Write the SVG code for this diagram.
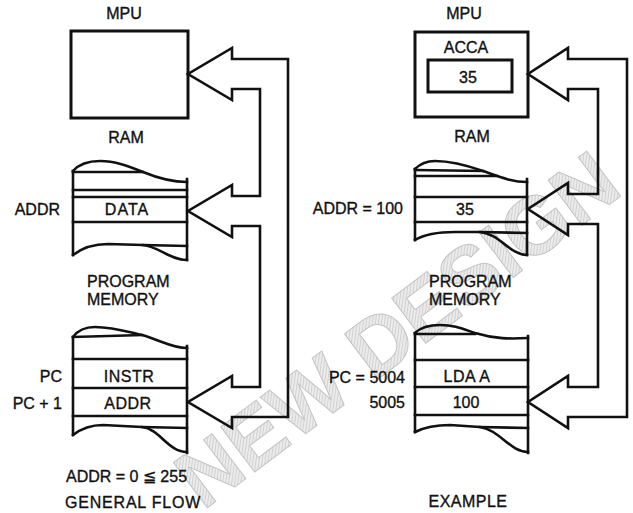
<svg xmlns="http://www.w3.org/2000/svg" width="633" height="513" viewBox="0 0 633 513">
<defs>
<pattern id="hatch" width="3" height="3" patternUnits="userSpaceOnUse" patternTransform="rotate(45)">
<rect width="3" height="3" fill="#ececec"/>
<line x1="0" y1="0" x2="0" y2="3" stroke="#bdbdbd" stroke-width="1.2"/>
</pattern>
</defs>
<style>
.ln{fill:none;stroke:#111;stroke-width:2.6;stroke-linejoin:miter;stroke-linecap:square}
.box{fill:#fff;stroke:#111;stroke-width:3}
.t{font-family:"Liberation Sans",Arial,sans-serif;font-size:16px;fill:#111;stroke:#111;stroke-width:0.35}
.c{text-anchor:middle}
.e{text-anchor:end}
.wm{font-family:"Liberation Sans",Arial,sans-serif;font-weight:bold;font-size:82px;fill:url(#hatch);stroke:#c4c4c4;stroke-width:1}
</style>
<rect width="633" height="513" fill="#fff"/>
<text class="wm" transform="translate(203,511) rotate(-37)">NEW DESIGN</text>

<g id="mpu-left">
<rect class="box" x="71" y="31" width="117" height="87"/>
<text class="t c" x="124" y="19">MPU</text>
</g>

<g id="ram-left">
<text class="t c" x="126" y="143">RAM</text>
<path class="ln" d="M73,171 C80,163 90,161 100,161 C115,161 128,166 143,172 C160,179 172,182 187,182"/>
<path class="ln" d="M73,172 L143,172"/>
<path class="ln" d="M73,171 L73,255 M187,179 L187,260"/>
<path class="ln" d="M73,190 L187,190 M73,197 L187,197 M73,222 L187,222"/>
<path class="ln" d="M73,255 C82,248 95,244 108,244 L143,245 C160,247 170,260 187,260"/>
<path class="ln" d="M143,245 L187,246"/>
<text class="t e" x="60" y="215">ADDR</text>
<text class="t c" x="127" y="215" letter-spacing="1">DATA</text>
</g>

<g id="progmem-left">
<text class="t" x="87" y="287">PROGRAM</text>
<text class="t" x="87" y="305">MEMORY</text>
<path class="ln" d="M73,337 C78,330 86,327 95,327 C112,327 125,331 142,335 C160,340 172,348 187,348"/>
<path class="ln" d="M73,337 L142,335"/>
<path class="ln" d="M73,337 L73,435 M187,346 L187,453"/>
<path class="ln" d="M73,359 L187,359 M73,388 L187,388 M73,416 L187,416"/>
<path class="ln" d="M73,435 C82,428 92,425 103,425 L142,427 C160,429 168,452 187,452"/>
<path class="ln" d="M142,427 L187,428"/>
<text class="t e" x="62" y="382">PC</text>
<text class="t e" x="62" y="409">PC + 1</text>
<text class="t c" x="129" y="382" letter-spacing="0.5">INSTR</text>
<text class="t c" x="128" y="409" letter-spacing="0.5">ADDR</text>
</g>

<g id="caption-left">
<text class="t" x="66" y="482">ADDR = 0 ≦ 255</text>
<text class="t" x="65" y="508" letter-spacing="0.8">GENERAL FLOW</text>
</g>

<g id="mpu-right">
<text class="t c" x="464" y="19">MPU</text>
<rect class="box" x="415" y="32" width="113" height="85"/>
<text class="t c" x="466" y="53">ACCA</text>
<rect class="box" x="428" y="60" width="84" height="32"/>
<text class="t c" x="468" y="83">35</text>
</g>

<g id="ram-right">
<text class="t c" x="472" y="142">RAM</text>
<path class="ln" d="M415,169 C421,163 428,161 435,161 C452,161 466,165 483,171 C500,177 512,182 527,182"/>
<path class="ln" d="M415,170 L483,171"/>
<path class="ln" d="M415,169 L415,240 M527,179 L527,255"/>
<path class="ln" d="M415,176 L497,176 M415,197 L527,197 M415,222 L527,222"/>
<path class="ln" d="M415,240 C425,234 440,232 455,232 L480,232 C500,234 510,255 527,255"/>
<path class="ln" d="M480,232 L527,233"/>
<text class="t e" x="403" y="214">ADDR = 100</text>
<text class="t c" x="465" y="215">35</text>
</g>

<g id="progmem-right">
<text class="t" x="429" y="287">PROGRAM</text>
<text class="t" x="429" y="305">MEMORY</text>
<path class="ln" d="M415,333 C421,327 430,325 440,325 C455,325 463,329 475,333 C495,339 510,339 528,338"/>
<path class="ln" d="M415,334 L475,334"/>
<path class="ln" d="M415,333 L415,432 M528,336 L528,453"/>
<path class="ln" d="M415,360 L528,360 M415,387 L528,387 M415,415 L528,415"/>
<path class="ln" d="M415,432 C425,427 435,425 450,425 L480,427 C500,430 510,452 528,452"/>
<path class="ln" d="M480,427 L528,428"/>
<text class="t e" x="405" y="383">PC = 5004</text>
<text class="t e" x="405" y="408">5005</text>
<text class="t c" x="467" y="382" letter-spacing="0.5">LDA A</text>
<text class="t c" x="466" y="408">100</text>
</g>

<g id="caption-right">
<text class="t c" x="468" y="507" letter-spacing="0.5">EXAMPLE</text>
</g>

<g id="connectors">
<path class="ln" d="M232,59 L232,48 L188,74 L232,100 L232,89 L260,89 L260,196 L232,196 L232,185 L188,211 L232,237 L232,226 L260,226 L260,387 L232,387 L232,376 L188,402 L232,428 L232,417 L288,417 L288,59 Z"/>
<path class="ln" d="M568,59 L568,48 L528,74 L568,100 L568,89 L598,89 L598,194 L568,194 L568,183 L528,209 L568,235 L568,224 L598,224 L598,387 L568,387 L568,376 L528,402 L568,428 L568,417 L627,417 L627,59 Z"/>
</g>
</svg>
